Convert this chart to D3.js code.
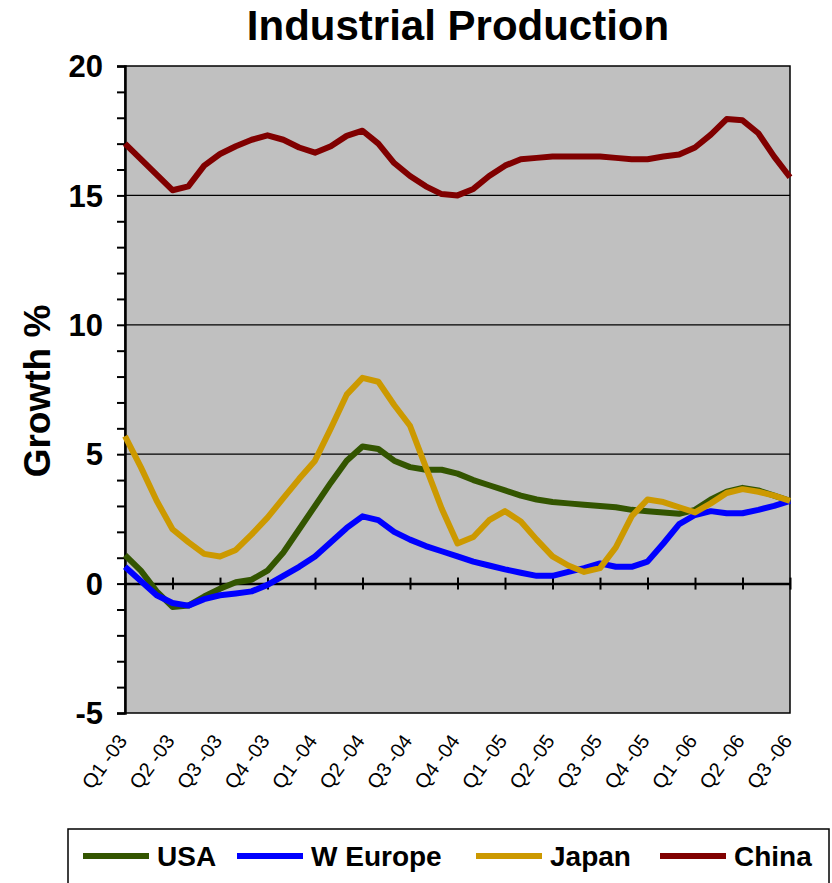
<!DOCTYPE html>
<html>
<head>
<meta charset="utf-8">
<script src="https://cdn.jsdelivr.net/npm/d3@7/dist/d3.min.js"></script>
<style>
  html, body { margin: 0; padding: 0; background: #ffffff; }
  svg { display: block; font-family: "Liberation Sans", Arial, sans-serif; }
</style>
</head>
<body>
<svg id="chart" width="832" height="883"></svg>
<script>
// Quarter labels along the x axis (one every three months)
const quarters = ["Q1 -03","Q2 -03","Q3 -03","Q4 -03","Q1 -04","Q2 -04","Q3 -04","Q4 -04",
                  "Q1 -05","Q2 -05","Q3 -05","Q4 -05","Q1 -06","Q2 -06","Q3 -06"];

// Monthly industrial production growth, % y/y (Jan 2003 .. Jul 2006)
const usa = [1.1, 0.5, -0.3, -0.9, -0.85, -0.5, -0.2, 0.05, 0.15, 0.5,
             1.2, 2.1, 3.0, 3.9, 4.75, 5.3, 5.2, 4.75, 4.5, 4.4,
             4.4, 4.25, 4.0, 3.8, 3.6, 3.4, 3.25, 3.15, 3.1, 3.05,
             3.0, 2.95, 2.85, 2.8, 2.75, 2.7, 2.85, 3.25, 3.55, 3.7,
             3.6, 3.4, 3.2];
const wEurope = [0.65, 0.1, -0.45, -0.75, -0.85, -0.6, -0.45, -0.38, -0.3, -0.05,
                 0.3, 0.65, 1.05, 1.6, 2.15, 2.6, 2.45, 2.0, 1.7, 1.45,
                 1.25, 1.05, 0.85, 0.7, 0.55, 0.42, 0.3, 0.3, 0.45, 0.6,
                 0.78, 0.65, 0.65, 0.85, 1.55, 2.3, 2.65, 2.8, 2.72, 2.72,
                 2.85, 3.0, 3.2];
const japan = [5.7, 4.5, 3.2, 2.1, 1.6, 1.15, 1.05, 1.3, 1.9, 2.55,
               3.3, 4.05, 4.75, 6.0, 7.3, 7.95, 7.8, 6.9, 6.1, 4.5,
               2.9, 1.55, 1.8, 2.45, 2.8, 2.4, 1.7, 1.05, 0.7, 0.45,
               0.6, 1.4, 2.6, 3.25, 3.15, 2.95, 2.75, 3.1, 3.5, 3.65,
               3.55, 3.4, 3.2];
const china = [17.0, 16.4, 15.8, 15.2, 15.35, 16.15, 16.6, 16.9, 17.15, 17.32,
               17.15, 16.85, 16.65, 16.9, 17.3, 17.5, 17.0, 16.25, 15.75, 15.35,
               15.05, 15.0, 15.25, 15.75, 16.15, 16.4, 16.45, 16.5, 16.5, 16.5,
               16.5, 16.45, 16.4, 16.4, 16.5, 16.58, 16.85, 17.35, 17.95, 17.9,
               17.4, 16.5, 15.7];

const seriesNames = ["USA", "W Europe", "Japan", "China"];
const seriesColors = ["#335500", "#0000ff", "#cc9900", "#800000"];
const seriesData = [usa, wEurope, japan, china];

const yTicks = [-5, 0, 5, 10, 15, 20];

const svg = d3.select("#chart");
const plot = { left: 125, right: 790, top: 66, bottom: 713 };

const x = d3.scaleLinear().domain([0, usa.length - 1]).range([plot.left, plot.right]);
const y = d3.scaleLinear().domain([-5, 20]).range([plot.bottom, plot.top]);

// Title
svg.append("text")
  .attr("x", 458).attr("y", 40)
  .attr("text-anchor", "middle")
  .attr("font-size", 42).attr("font-weight", "bold")
  .text("Industrial Production");

// Plot background and frame
svg.append("rect")
  .attr("x", plot.left).attr("y", plot.top)
  .attr("width", plot.right - plot.left).attr("height", plot.bottom - plot.top)
  .attr("fill", "#c0c0c0").attr("stroke", "#000").attr("stroke-width", 1.5);

// Horizontal gridlines
svg.append("g").selectAll("line")
  .data(yTicks.filter(d => d > 0 && d < 20))
  .join("line")
  .attr("x1", plot.left).attr("x2", plot.right)
  .attr("y1", d => y(d)).attr("y2", d => y(d))
  .attr("stroke", "#000").attr("stroke-width", 1.2);

// Y axis with a minor tick every unit
const yAxis = d3.axisLeft(y).tickValues(d3.range(-5, 21, 1)).tickSize(8).tickFormat("");
const yg = svg.append("g").attr("transform", `translate(${plot.left},0)`).call(yAxis);
yg.select(".domain").attr("stroke", "#000").attr("stroke-width", 2.5);
yg.selectAll(".tick line").attr("stroke", "#000").attr("stroke-width", 2);

// Y tick labels
svg.append("g").selectAll("text")
  .data(yTicks)
  .join("text")
  .attr("x", 103).attr("y", d => y(d))
  .attr("dy", "0.36em")
  .attr("text-anchor", "end")
  .attr("font-size", 31).attr("font-weight", "bold")
  .text(d => d);

// Y axis title
svg.append("text")
  .attr("transform", "translate(50,391) rotate(-90)")
  .attr("text-anchor", "middle")
  .attr("font-size", 37).attr("font-weight", "bold")
  .text("Growth %");

// X axis drawn along zero, ticks crossing the line at each quarter
const qIdx = quarters.map((q, i) => i * 3);
const xAxis = d3.axisBottom(x).tickValues(qIdx).tickSize(0).tickFormat("");
const xg = svg.append("g").attr("transform", `translate(0,${y(0)})`).call(xAxis);
xg.select(".domain").attr("stroke", "#000").attr("stroke-width", 2.5);
xg.selectAll(".tick line").attr("y1", -6).attr("y2", 6).attr("stroke", "#000").attr("stroke-width", 2);

// Rotated quarter labels beneath the plot
svg.append("g").selectAll("text")
  .data(quarters)
  .join("text")
  .attr("transform", (d, i) => `translate(${x(qIdx[i]) + 3},${plot.bottom + 28}) rotate(-54)`)
  .attr("text-anchor", "end")
  .attr("font-size", 20)
  .text(d => d);

// Series lines
const line = d3.line().x((d, i) => x(i)).y(d => y(d)).curve(d3.curveLinear);
svg.append("g").selectAll("path")
  .data(seriesData)
  .join("path")
  .attr("d", d => line(d))
  .attr("fill", "none")
  .attr("stroke", (d, i) => seriesColors[i])
  .attr("stroke-width", 6)
  .attr("stroke-linejoin", "round")
  .attr("stroke-linecap", "butt");

// Legend
const legend = svg.append("g");
legend.append("rect")
  .attr("x", 68).attr("y", 829).attr("width", 761).attr("height", 70)
  .attr("fill", "#fff").attr("stroke", "#000").attr("stroke-width", 1.5);
const legendX = [83, 237, 476, 660];
const item = legend.selectAll("g.item")
  .data(seriesNames)
  .join("g").attr("class", "item")
  .attr("transform", (d, i) => `translate(${legendX[i]},856)`);
item.append("line")
  .attr("x1", 0).attr("x2", 66).attr("y1", 0).attr("y2", 0)
  .attr("stroke", (d, i) => seriesColors[i]).attr("stroke-width", 6);
item.append("text")
  .attr("x", 74).attr("y", 0).attr("dy", "0.36em")
  .attr("font-size", 28).attr("font-weight", "bold")
  .text(d => d);
</script>
</body>
</html>
